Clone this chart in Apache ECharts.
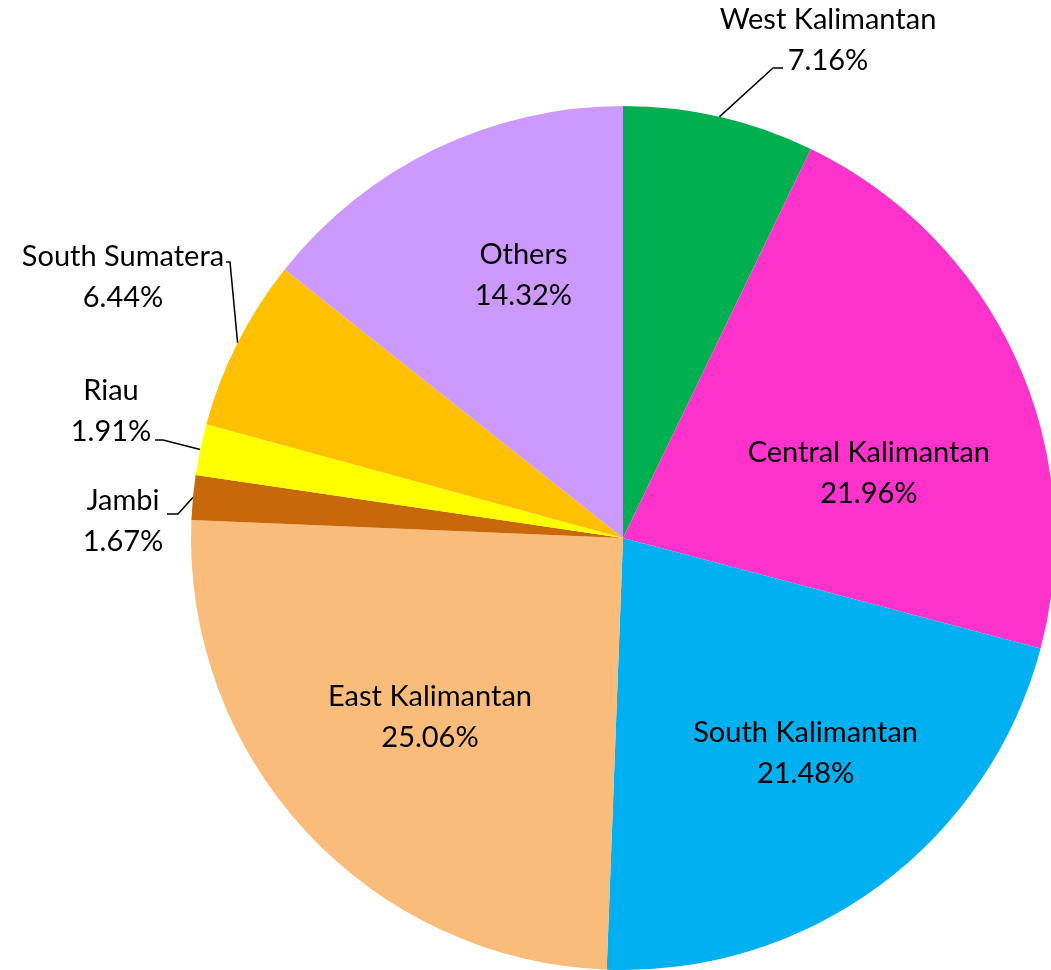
<!DOCTYPE html>
<html>
<head>
<meta charset="UTF-8"/>
<title>Pie</title>
<script type="text/javascript" src="https://cdn.jsdelivr.net/npm/echarts@6/dist/echarts.min.js"></script>
<style>
  html, body { margin: 0; padding: 0; background: #fff; }
  #main { width: 1051px; height: 970px; }
</style>
</head>
<body>
<div id="main"></div>
<script type="text/javascript">
    var regions = ['West Kalimantan', 'Central Kalimantan', 'South Kalimantan', 'East Kalimantan',
                   'Jambi', 'Riau', 'South Sumatera', 'Others'];
    var shares = [7.16, 21.96, 21.48, 25.06, 1.67, 1.91, 6.44, 14.32];
    var colors = ['#00B050', '#FF33CC', '#00B0F0', '#F9BC7B', '#C9680A', '#FFFF00', '#FFC000', '#CC99FF'];
    var outside = ['West Kalimantan', 'Jambi', 'Riau', 'South Sumatera'];

    // label placement tweaks (Excel style "best fit")
    var innerShift = {
        'Central Kalimantan': [-4, 50],
        'South Kalimantan': [19, -6],
        'East Kalimantan': [9, -7],
        'Others': [20, -15]
    };
    var outerPlace = {
        'West Kalimantan': { at: [828, 40], line: [[773, 68], [783, 68]] },
        'South Sumatera': { at: [123, 277], line: [[230, 262], [226, 262]] },
        'Riau': { at: [111, 411], line: [[163, 440], [155, 440]] },
        'Jambi': { at: [123, 521], line: [[178, 514], [167, 514]] }
    };

    var myChart = echarts.init(document.getElementById('main'));
    var font = 'Lato';
    var R = 432;

    function fmt(p) {
        return '{t|' + p.name + '}\n{t|' + p.value.toFixed(2) + '%}';
    }
    var rich = { t: { align: 'center', fontFamily: font, fontSize: 29, lineHeight: 41, color: '#000' } };

    var mainData = regions.map(function (n, i) {
        var out = outside.indexOf(n) >= 0;
        return {
            name: n, value: shares[i],
            itemStyle: { color: colors[i] },
            label: { show: out },
            labelLine: { show: out }
        };
    });
    // transparent copy, used only to put the inside labels further out
    var innerData = regions.map(function (n, i) {
        var out = outside.indexOf(n) >= 0;
        return { name: n, value: shares[i], label: { show: !out } };
    });

    option = {
        animation: false,
        series: [{
            type: 'pie',
            center: [623, 538],
            radius: [0, R],
            startAngle: 90,
            clockwise: true,
            avoidLabelOverlap: false,
            label: {
                position: 'outside',
                formatter: fmt,
                rich: rich
            },
            labelLine: { length: 30, length2: 10, lineStyle: { color: '#000', width: 1.5 } },
            labelLayout: function (params) {
                var o = outerPlace[regions[params.dataIndex]];
                if (!o) return {};
                var start = params.labelLinePoints ? params.labelLinePoints[0] : o.line[0];
                return {
                    x: o.at[0], y: o.at[1],
                    align: 'center', verticalAlign: 'middle',
                    hideOverlap: false,
                    labelLinePoints: [start, o.line[0], o.line[1]]
                };
            },
            itemStyle: { borderWidth: 0 },
            data: mainData
        }, {
            type: 'pie',
            center: [623, 538],
            radius: [112, R],
            startAngle: 90,
            silent: true,
            label: {
                position: 'inside',
                formatter: fmt,
                rich: rich
            },
            labelLayout: function (params) {
                var s = innerShift[regions[params.dataIndex]];
                return s ? { dx: s[0], dy: s[1] } : {};
            },
            labelLine: { show: false },
            itemStyle: { color: 'rgba(0,0,0,0)' },
            data: innerData
        }]
    };
    myChart.setOption(option);
</script>
</body>
</html>
